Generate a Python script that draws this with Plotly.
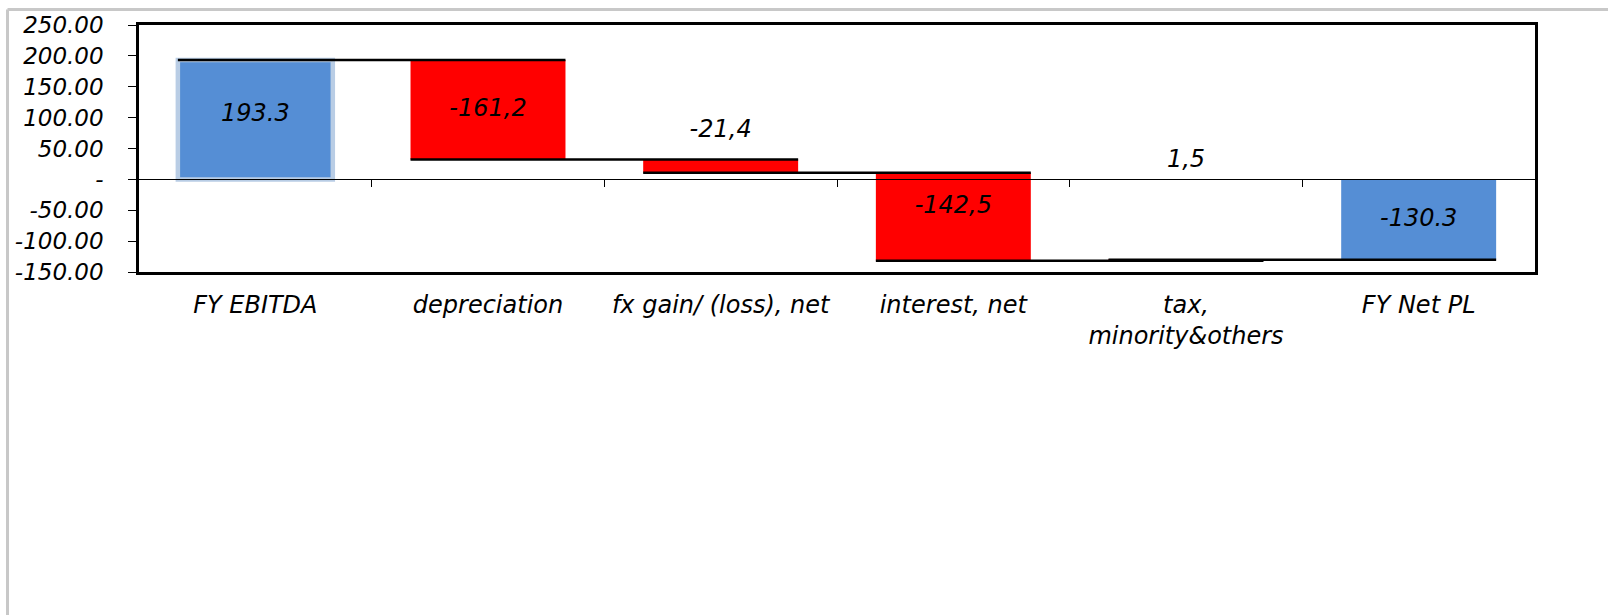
import plotly.graph_objects as go

# ---- data ----
categories = ["FY EBITDA", "depreciation", "fx gain/ (loss), net", "interest, net",
              "tax,<br>minority&others", "FY Net PL"]
values = [193.3, -161.2, -21.4, -142.5, 1.5, -130.3]
measures = ["total", "relative", "relative", "relative", "relative", "total"]
value_labels = ["193.3", "-161,2", "-21,4", "-142,5", "1,5", "-130.3"]
y_tickvals = [-150, -100, -50, 0, 50, 100, 150, 200, 250]
y_ticktext = ["-150.00", "-100.00", "-50.00", "-", "50.00", "100.00", "150.00", "200.00", "250.00"]

# ---- styles / layout constants ----
BLUE = "#558ed5"
RED = "#ff0000"
HALO = "#b9cde5"
BAR_W = 0.666
FONT = dict(family="DejaVu Sans", size=23, color="black", style="italic")
FONT_L = dict(family="DejaVu Sans", size=24, color="black", style="italic")
# where each value label sits (data units on the y axis)
label_y = [104, 112, 78, -44, 30, -66]

W, H = 1608, 615
L, R, T, B = 139, 1535, 23, 272
Y_MIN, Y_MAX = -150, 250

idx = list(range(len(categories)))

# waterfall geometry from data
bases, heights, ends = [], [], []
running = 0.0
for v, m in zip(values, measures):
    if m == "total":
        bases.append(0.0)
        heights.append(v)
        running = v
    else:
        bases.append(running)
        heights.append(v)
        running += v
    ends.append(running)

colors = [BLUE if m == "total" else RED for m in measures]
line_colors = [HALO if i == 0 else "rgba(0,0,0,0)" for i in idx]
line_widths = [4.5 if i == 0 else 0 for i in idx]

fig = go.Figure()
fig.add_trace(go.Bar(
    x=idx, y=heights, base=bases, width=BAR_W,
    marker=dict(color=colors, line=dict(color=line_colors, width=line_widths)),
    hoverinfo="skip", showlegend=False,
))

# connectors: from left edge of bar i to right edge of bar i+1, at the level of bar i's end
cx, cy = [], []
for i in range(len(idx) - 1):
    cx += [idx[i] - BAR_W / 2, idx[i + 1] + BAR_W / 2, None]
    cy += [ends[i], ends[i], None]
fig.add_trace(go.Scatter(
    x=cx, y=cy, mode="lines", line=dict(color="black", width=2.5),
    xaxis="x2", yaxis="y", hoverinfo="skip", showlegend=False,
))

# value labels
fig.add_trace(go.Scatter(
    x=idx, y=label_y, mode="text", text=value_labels, textposition="middle center",
    textfont=FONT_L, xaxis="x2", yaxis="y", hoverinfo="skip", showlegend=False,
))

pw, ph = R - L, B - T
def px_x(p):
    return (p - L) / pw
def px_y(p):
    return (B - p) / ph

zero_pos = (0 - Y_MIN) / (Y_MAX - Y_MIN)

fig.update_layout(
    width=W, height=H,
    margin=dict(l=L, r=W - R, t=T, b=H - B, pad=0),
    paper_bgcolor="white", plot_bgcolor="white",
    showlegend=False,
    xaxis=dict(
        range=[-0.5, len(idx) - 0.5], tickvals=idx, ticktext=categories,
        ticks="", showline=True, mirror=True, linecolor="black", linewidth=2.5,
        showgrid=False, zeroline=False, tickfont=FONT_L, ticklabelstandoff=9,
    ),
    xaxis2=dict(
        overlaying="x", anchor="free", position=zero_pos,
        range=[-0.5, len(idx) - 0.5], matches="x",
        showline=True, linecolor="black", linewidth=1,
        ticks="outside", ticklen=7, tickwidth=1, tickcolor="black",
        tickvals=[i + 0.5 for i in idx[:-1]], showticklabels=False,
        showgrid=False, zeroline=False,
    ),
    yaxis=dict(
        range=[Y_MIN, Y_MAX], tickvals=y_tickvals, ticktext=y_ticktext,
        ticks="outside", ticklen=8, tickwidth=1, tickcolor="black",
        showline=True, mirror=True, linecolor="black", linewidth=2.5,
        showgrid=False, zeroline=False, tickfont=FONT, ticklabelstandoff=20,
    ),
    shapes=[
        dict(type="line", xref="paper", yref="paper",
             x0=px_x(7.5), x1=px_x(7.5), y0=px_y(7.5), y1=px_y(H + 5),
             line=dict(color="#c8c8c8", width=3)),
        dict(type="line", xref="paper", yref="paper",
             x0=px_x(7.5), x1=px_x(W + 5), y0=px_y(7.5), y1=px_y(7.5),
             line=dict(color="#c8c8c8", width=3)),
    ],
)

fig.write_html("out.html")
